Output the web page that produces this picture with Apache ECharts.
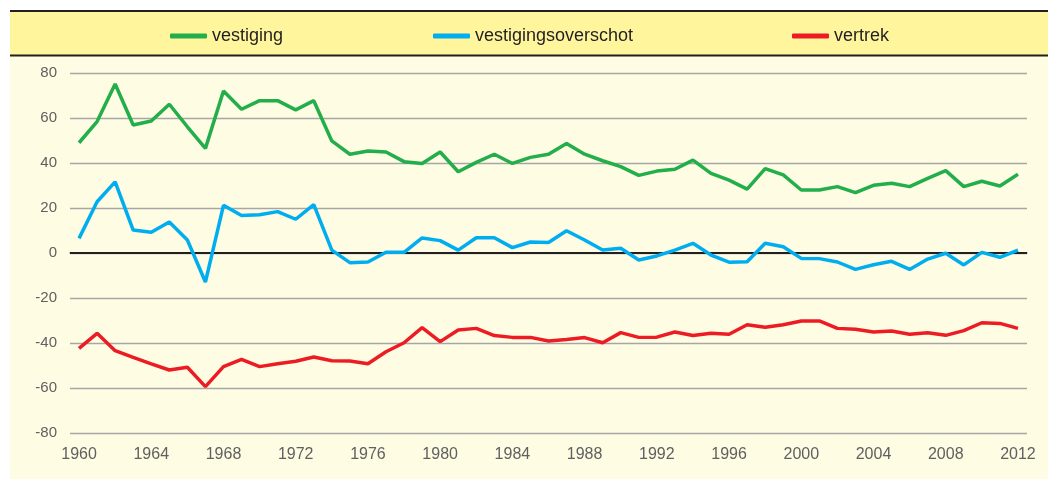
<!DOCTYPE html>
<html>
<head>
<meta charset="utf-8">
<script src="https://cdn.jsdelivr.net/npm/echarts@6/dist/echarts.min.js"></script>
<style>
html, body { margin: 0; padding: 0; background: #fff; }
#chart { width: 1048px; height: 479px; }
</style>
</head>
<body>
<div id="chart"></div>
<script>
// years on the x axis
const years = [];
for (let y = 1960; y <= 2012; y += 1) years.push(String(y));

const vestiging = [49, 58.4, 75.1, 56.9, 58.7, 66.1, 56.1, 46.5, 72, 63.9,
  67.7, 67.7, 63.6, 67.7, 49.8, 43.9, 45.3, 44.9, 40.6, 39.8,
  44.9, 36.1, 40.3, 43.9, 39.8, 42.5, 43.9, 48.7, 43.9, 41,
  38.4, 34.5, 36.4, 37.2, 41.3, 35.4, 32.4, 28.4, 37.5, 34.7,
  28, 28, 29.5, 26.8, 30.1, 31, 29.5, 33.2, 36.6, 29.5,
  31.9, 29.8, 35];

const overschot = [6.5, 22.8, 31.6, 10.2, 9.2, 13.8, 5.8, -12.9, 21.2, 16.7,
  17, 18.4, 15, 21.5, 1.3, -4.3, -4, 0.3, 0.3, 6.7,
  5.5, 1.3, 6.8, 6.8, 2.4, 4.9, 4.7, 9.9, 5.8, 1.3,
  2.1, -3.1, -1.3, 1.3, 4.3, -0.9, -4.1, -3.9, 4.3, 2.8,
  -2.4, -2.5, -4, -7.3, -5.2, -3.7, -7.3, -2.7, -0.1, -5.3,
  0.3, -1.9, 1.3];

const vertrek = [-42.4, -35.7, -43.4, -46.4, -49.3, -52, -50.8, -59.4, -50.5, -47.3,
  -50.5, -49.2, -48.1, -46.2, -47.9, -48, -49.2, -43.9, -39.9, -33.2,
  -39.4, -34.2, -33.5, -36.7, -37.5, -37.5, -39.1, -38.4, -37.6, -39.9,
  -35.4, -37.5, -37.4, -35.1, -36.7, -35.7, -36.1, -31.9, -33, -31.9,
  -30.2, -30.2, -33.5, -33.9, -35.1, -34.7, -36.1, -35.4, -36.6, -34.5,
  -31, -31.3, -33.5];

const colors = ['#22ae4a', '#00aeef', '#ed1c24'];
const names = ['vestiging', 'vestigingsoverschot', 'vertrek'];

const legendText = {
  color: '#231f20',
  fontSize: 18,
  fontFamily: 'Liberation Sans Narrow, Liberation Sans, sans-serif',
};
const legendBase = {
  top: 27,
  padding: 0,
  itemWidth: 37,
  itemHeight: 5,
  icon: 'roundRect',
  textStyle: legendText,
  selectedMode: false,
};

const chart = echarts.init(document.getElementById('chart'));
chart.setOption({
  animation: false,
  backgroundColor: '#ffffff',
  color: colors,
  graphic: [
    {
      type: 'rect', z: -10, silent: true,
      shape: { x: 10, y: 56, width: 1040, height: 425 },
      style: { fill: '#fefce3' },
    },
    {
      type: 'rect', z: -10, silent: true,
      shape: { x: 10, y: 11, width: 1040, height: 44 },
      style: { fill: '#fff59d' },
    },
    {
      type: 'line', z: -9, silent: true,
      shape: { x1: 10, y1: 11, x2: 1048, y2: 11 },
      style: { stroke: '#231f20', lineWidth: 2 },
    },
    {
      type: 'line', z: -9, silent: true,
      shape: { x1: 10, y1: 55.5, x2: 1048, y2: 55.5 },
      style: { stroke: '#231f20', lineWidth: 2 },
    },
  ],
  legend: [
    Object.assign({ left: 170, data: [names[0]] }, legendBase),
    Object.assign({ left: 433, data: [names[1]] }, legendBase),
    Object.assign({ left: 792, data: [names[2]] }, legendBase),
  ],
  grid: {
    left: 70,
    right: 21,
    top: 73,
    bottom: 46,
  },
  xAxis: {
    type: 'category',
    data: years,
    boundaryGap: true,
    axisLine: { lineStyle: { color: '#8c8c8c', width: 1.5 } },
    axisTick: { interval: 0, length: 5, lineStyle: { color: '#8c8c8c', width: 1.5 } },
    axisLabel: {
      interval: 3,
      margin: 14,
      color: '#606060',
      fontSize: 16,
      fontFamily: 'Liberation Sans, sans-serif',
    },
  },
  yAxis: {
    type: 'value',
    min: -80,
    max: 80,
    interval: 20,
    axisLine: { show: false },
    axisTick: { show: false },
    axisLabel: {
      margin: 13,
      color: '#606060',
      fontSize: 15,
      fontFamily: 'Liberation Sans, sans-serif',
    },
    splitLine: { lineStyle: { color: '#a6a6a6', width: 1.3 } },
  },
  series: [
    {
      name: names[0], type: 'line', data: vestiging,
      symbol: 'none', lineStyle: { width: 3.5 },
    },
    {
      name: names[1], type: 'line', data: overschot,
      symbol: 'none', lineStyle: { width: 3.5 },
      markLine: {
        silent: true,
        symbol: 'none',
        label: { show: false },
        lineStyle: { color: '#231f20', width: 2, type: 'solid' },
        data: [{ yAxis: 0 }],
        z: 1,
      },
    },
    {
      name: names[2], type: 'line', data: vertrek,
      symbol: 'none', lineStyle: { width: 3.5 },
    },
  ],
});
</script>
</body>
</html>
